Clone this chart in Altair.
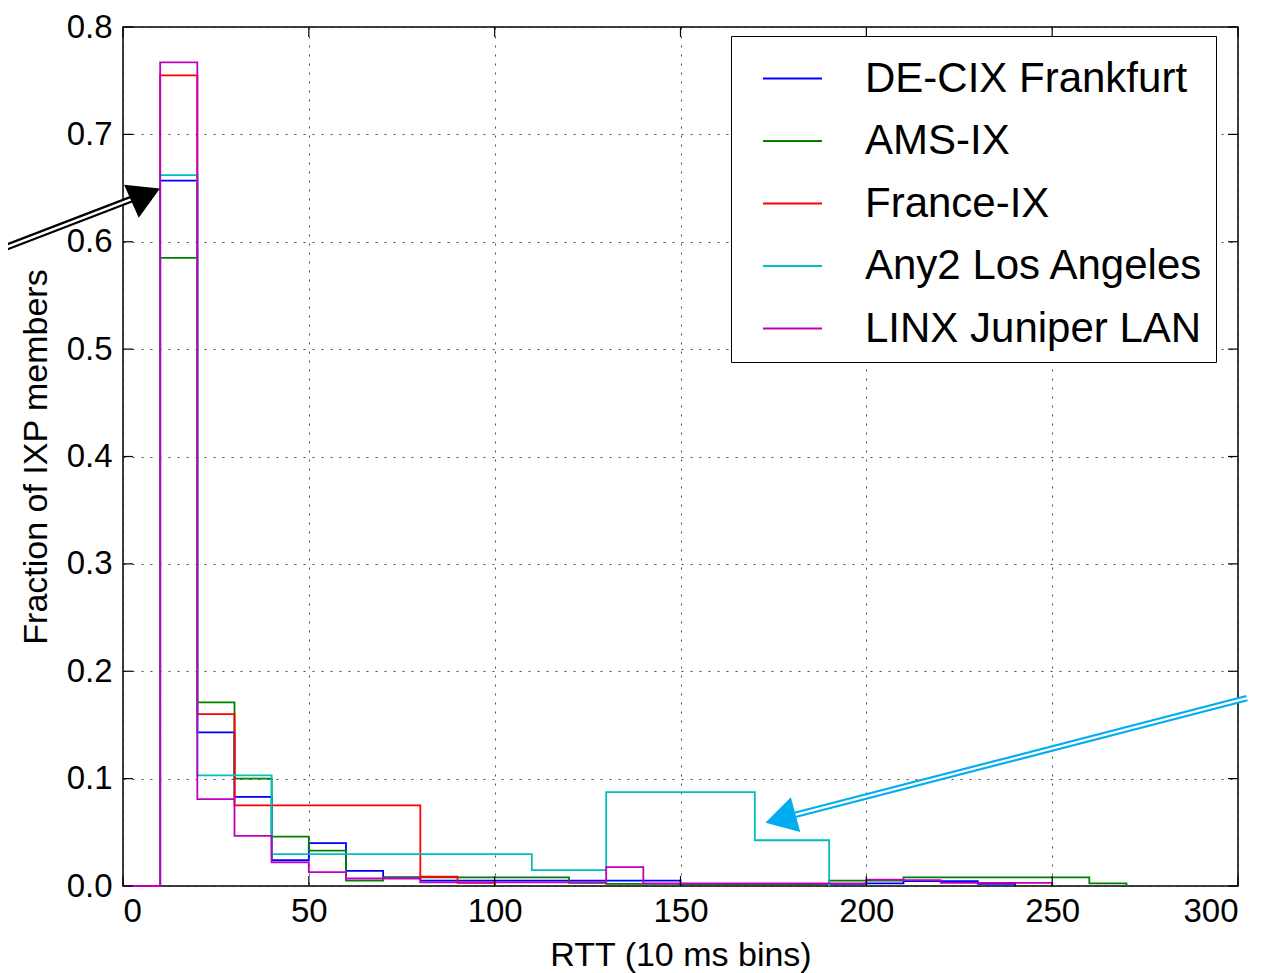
import altair as alt
import pandas as pd

# ---------------- data ----------------
bin_width = 10
series = ["DE-CIX Frankfurt", "AMS-IX", "France-IX", "Any2 Los Angeles", "LINX Juniper LAN"]
colors = ["#0000ff", "#008000", "#ff0000", "#00bfbf", "#bf00bf"]

# fraction of members per 10 ms bin, bins start at 0
decix = [0, 0.657, 0.143, 0.083, 0.024, 0.040, 0.014, 0.008, 0.005, 0.005,
         0.005, 0.005, 0.005, 0.005, 0.005, 0.002, 0.002, 0.002, 0.002, 0.002,
         0.0025, 0.0045, 0.0045, 0.002]
amsix = [0, 0.585, 0.171, 0.100, 0.046, 0.033, 0.005, 0.008, 0.008, 0.008,
         0.008, 0.008, 0.003, 0.002, 0.002, 0.002, 0.002, 0.002, 0.002, 0.005,
         0.005, 0.008, 0.008, 0.008, 0.008, 0.008, 0.0025]
franceix = [0, 0.755, 0.160, 0.075, 0.075, 0.075, 0.075, 0.075, 0.0086, 0.003]
any2 = [0, 0.662, 0.103, 0.103, 0.0296, 0.0296, 0.0296, 0.0296, 0.0296, 0.0296,
        0.0296, 0.0148, 0.0148, 0.0875, 0.0875, 0.0875, 0.0875, 0.0426, 0.0426]
linx = [0, 0.767, 0.081, 0.0466, 0.022, 0.013, 0.007, 0.007, 0.0034, 0.0034,
        0.0034, 0.0034, 0.0034, 0.0176, 0.0025, 0.0025, 0.0025, 0.0025, 0.0025, 0.0025,
        0.006, 0.0055, 0.003, 0.003, 0.003]
all_values = [decix, amsix, franceix, any2, linx]

x_ticks = [0, 50, 100, 150, 200, 250, 300]
y_ticks = [0.0, 0.1, 0.2, 0.3, 0.4, 0.5, 0.6, 0.7, 0.8]

# annotation arrows (data coordinates)
black_shaft_x = [-33.1, 4.6]
black_shaft_y = [0.5926, 0.6428]
black_head_x = [6.1]
black_head_y = [0.6436]
cyan_shaft_x = [302.4, 176.9]
cyan_shaft_y = [0.175, 0.0627]
cyan_head_x = [176.9]
cyan_head_y = [0.0627]

# ---------------- build tables ----------------
rows = []
for k, (name, vals) in enumerate(zip(series, all_values)):
    for i, v in enumerate(vals):
        rows.append({"series": name, "order": k, "x": i * bin_width, "y": v})
    rows.append({"series": name, "order": k, "x": len(vals) * bin_width, "y": 0.0})
hist_df = pd.DataFrame(rows)

W, H = 1115, 859
FONT = "Liberation Sans"

x_enc = alt.X("x:Q", scale=alt.Scale(domain=[0, 300], nice=False, zero=False),
              axis=alt.Axis(values=x_ticks, title="RTT (10 ms bins)", format="d",
                            grid=True, ticks=False, domain=False,
                            labelPadding=9, titlePadding=10))
y_enc = alt.Y("y:Q", scale=alt.Scale(domain=[0, 0.8], nice=False),
              axis=alt.Axis(values=y_ticks, title="Fraction of IXP members", format=".1f",
                            grid=True, ticks=False, domain=False,
                            labelPadding=11, titlePadding=13))

hist = alt.Chart(hist_df).mark_line(interpolate="step-after", strokeWidth=1.8).encode(
    x=x_enc,
    y=y_enc,
    color=alt.Color("series:N",
                    scale=alt.Scale(domain=series, range=colors),
                    sort=series,
                    legend=alt.Legend(orient="none", legendX=608, legendY=9, title=None,
                                      symbolType="stroke", symbolSize=3481,
                                      symbolStrokeWidth=2, labelFont=FONT,
                                      labelFontSize=42, labelLimit=600, labelColor="black",
                                      padding=12, symbolOffset=19, labelOffset=42,
                                      rowPadding=10.5, strokeColor="black",
                                      fillColor="white", cornerRadius=0)),
    order=alt.Order("order:Q"),
)

# inward tick marks on all four sides
xt = pd.DataFrame({"x": x_ticks})
yt = pd.DataFrame({"y": y_ticks})
tick_bottom = alt.Chart(xt).mark_rule(color="black", strokeWidth=1.2).encode(
    x="x:Q", y=alt.value(H), y2=alt.value(H - 10))
tick_top = alt.Chart(xt).mark_rule(color="black", strokeWidth=1.2).encode(
    x="x:Q", y=alt.value(0), y2=alt.value(10))
tick_left = alt.Chart(yt).mark_rule(color="black", strokeWidth=1.2).encode(
    y="y:Q", x=alt.value(0), x2=alt.value(10))
tick_right = alt.Chart(yt).mark_rule(color="black", strokeWidth=1.2).encode(
    y="y:Q", x=alt.value(W), x2=alt.value(W - 10))

# arrows
bs = pd.DataFrame({"x": black_shaft_x, "y": black_shaft_y})
bh = pd.DataFrame({"x": black_head_x, "y": black_head_y})
cs = pd.DataFrame({"x": cyan_shaft_x, "y": cyan_shaft_y})
ch = pd.DataFrame({"x": cyan_head_x, "y": cyan_head_y})

black_outer = alt.Chart(bs).mark_line(color="black", strokeWidth=7, clip=False).encode(x="x:Q", y="y:Q")
black_inner = alt.Chart(bs).mark_line(color="white", strokeWidth=2.5, clip=False).encode(x="x:Q", y="y:Q")
black_head = alt.Chart(bh).mark_point(shape="triangle-up", filled=True, size=1300, angle=66,
                                      color="black", opacity=1, clip=False).encode(x="x:Q", y="y:Q")
cyan_outer = alt.Chart(cs).mark_line(color="#00aeef", strokeWidth=6.5, clip=False).encode(x="x:Q", y="y:Q")
cyan_inner = alt.Chart(cs).mark_line(color="white", strokeWidth=2.2, clip=False).encode(x="x:Q", y="y:Q")
cyan_head = alt.Chart(ch).mark_point(shape="triangle-up", filled=True, size=1300, angle=255,
                                     color="#00aeef", opacity=1, clip=False).encode(x="x:Q", y="y:Q")

chart = alt.layer(
    hist, tick_bottom, tick_top, tick_left, tick_right,
    black_outer, black_inner, black_head, cyan_outer, cyan_inner, cyan_head,
).properties(
    width=W, height=H,
    autosize=alt.AutoSizeParams(type="none"),
    padding={"left": 115, "top": 19, "right": 25, "bottom": 87},
    background="white",
).configure_view(
    stroke="black", strokeWidth=1.5
).configure_axis(
    labelFont=FONT, titleFont=FONT, labelFontSize=33, titleFontSize=34,
    titleFontWeight="normal", labelColor="black", titleColor="black",
    gridColor="#222222", gridDash=[2, 7], gridWidth=1, gridOpacity=0.8,
)

chart.save("out.html", embed_options={"renderer": "svg", "actions": False})
